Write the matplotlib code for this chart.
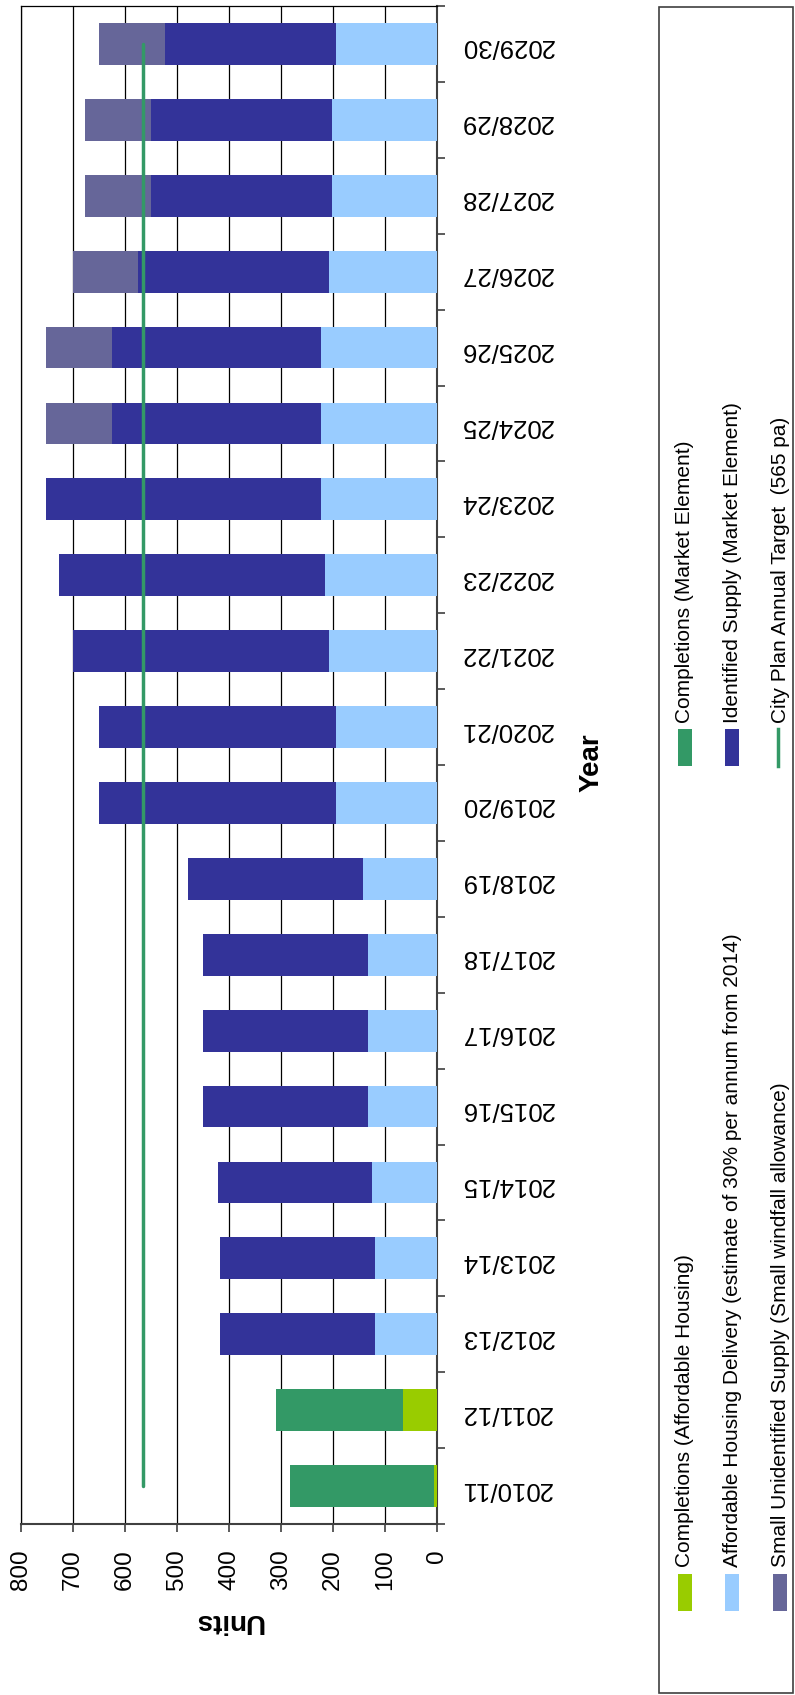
import numpy as np
import matplotlib.pyplot as plt
from matplotlib.patches import Rectangle
from matplotlib.lines import Line2D

plt.rcParams['font.family'] = ['Liberation Sans', 'DejaVu Sans']

years = ['2010/11', '2011/12', '2012/13', '2013/14', '2014/15', '2015/16', '2016/17',
         '2017/18', '2018/19', '2019/20', '2020/21', '2021/22', '2022/23', '2023/24',
         '2024/25', '2025/26', '2026/27', '2027/28', '2028/29', '2029/30']

comp_affordable = [6, 66, 0, 0, 0, 0, 0, 0, 0, 0, 0, 0, 0, 0, 0, 0, 0, 0, 0, 0]
comp_market = [277, 244, 0, 0, 0, 0, 0, 0, 0, 0, 0, 0, 0, 0, 0, 0, 0, 0, 0, 0]
affordable_delivery = [0, 0, 120, 120, 125, 133, 133, 133, 143, 195, 195, 208, 216, 223,
                       223, 223, 208, 202, 202, 195]
identified_supply = [0, 0, 297, 297, 296, 317, 317, 317, 336, 455, 455, 492, 510, 528,
                     402, 402, 366, 347, 347, 328]
small_windfall = [0, 0, 0, 0, 0, 0, 0, 0, 0, 0, 0, 0, 0, 0, 126, 126, 126, 127, 127, 127]
target = 565

series = [
    ('Completions (Affordable Housing)', comp_affordable, '#99CC00'),
    ('Completions (Market Element)', comp_market, '#339966'),
    ('Affordable Housing Delivery (estimate of 30% per annum from 2014)', affordable_delivery, '#99CCFF'),
    ('Identified Supply (Market Element)', identified_supply, '#333399'),
    ('Small Unidentified Supply (Small windfall allowance)', small_windfall, '#666699'),
]

W, H = 795, 1695
fig = plt.figure(figsize=(W / 100, H / 100), dpi=100)

# axes rect from pixel positions
x0, x1, yt, yb = 20.7, 437.3, 6, 1524
ax = fig.add_axes([x0 / W, 1 - yb / H, (x1 - x0) / W, (yb - yt) / H])

pos = np.arange(len(years))
left = np.zeros(len(years))
for name, vals, col in series:
    vals = np.array(vals, dtype=float)
    ax.barh(pos, vals, left=left, height=0.55, color=col, zorder=3)
    left += vals

ax.plot([target] * len(years), pos, color='#339966', lw=2.5, zorder=4,
        solid_capstyle='round')

ax.set_xlim(800, 0)
ax.set_ylim(-0.5, len(years) - 0.5)
ax.set_xticks(range(0, 801, 100))
ax.grid(axis='x', color='black', lw=0.9, zorder=0)
ax.tick_params(axis='x', length=6, width=1.2, direction='out', pad=12,
               labelsize=17.5, labelrotation=90, color='#404040')

ax.yaxis.tick_right()
ax.set_yticks(pos)
ax.set_yticklabels(years, rotation=180, fontsize=18.5)
ax.set_yticks(np.arange(-0.5, len(years), 1), minor=True)
ax.tick_params(axis='y', which='major', length=0, pad=16.5)
ax.tick_params(axis='y', which='minor', length=6, width=1.2, direction='out',
               color='#404040')

for s in ['top', 'left']:
    ax.spines[s].set_color('black')
    ax.spines[s].set_linewidth(0.9)
for s in ['bottom', 'right']:
    ax.spines[s].set_color('#404040')
    ax.spines[s].set_linewidth(1.5)

fig.text(228.5 / W, 1 - 1621 / H, 'Units', rotation=180, fontsize=20,
         fontweight='bold', ha='center', va='center')
fig.text(592 / W, 1 - 763 / H, 'Year', rotation=90, fontsize=20,
         fontweight='bold', ha='center', va='center')

# legend box drawn by hand (rotated text)
fig.add_artist(Rectangle((659 / W, 1 - 1693 / H), (793 - 659) / W, (1693 - 7) / H,
                         transform=fig.transFigure, fill=False, ec='#404040', lw=1.2))

cols_x = [685, 732, 780]
rows = [(1574, 1611, 1567), (729, 766, 723)]
entries = [
    (0, 0, series[0][0], series[0][2], 'patch'),
    (1, 0, series[2][0], series[2][2], 'patch'),
    (2, 0, series[4][0], series[4][2], 'patch'),
    (0, 1, series[1][0], series[1][2], 'patch'),
    (1, 1, series[3][0], series[3][2], 'patch'),
    (2, 1, 'City Plan Annual Target  (565 pa)', '#339966', 'line'),
]
for c, r, label, col, kind in entries:
    cx = cols_x[c]
    ptop, pbot, tstart = rows[r]
    if kind == 'patch':
        fig.add_artist(Rectangle(((cx - 6.7) / W, 1 - pbot / H), 13.4 / W, (pbot - ptop) / H,
                                 transform=fig.transFigure, color=col, lw=0))
    else:
        fig.add_artist(Line2D([(cx - 2) / W] * 2, [1 - pbot / H, 1 - ptop / H],
                              transform=fig.transFigure, color=col, lw=2.5))
    fig.text(cx / W, 1 - tstart / H, label, rotation=90, fontsize=15,
             ha='center', va='bottom')

fig.savefig('out.png', dpi=100)
